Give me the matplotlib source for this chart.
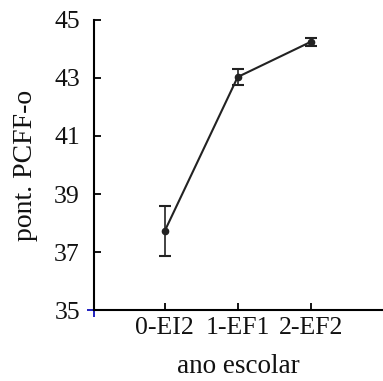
import matplotlib
matplotlib.use("Agg")
import matplotlib.pyplot as plt

# dados
anos = ["0-EI2", "1-EF1", "2-EF2"]
medias = [37.72, 43.03, 44.24]
erros = [0.86, 0.28, 0.14]
yticks = [35, 37, 39, 41, 43, 45]

plt.rcParams['font.family'] = ['Liberation Serif', 'DejaVu Serif']

fig = plt.figure(figsize=(3.83, 3.81), dpi=100)
ax = fig.add_axes([0.245, 0.186, 0.755, 0.762])

x = list(range(len(anos)))
ax.errorbar(x, medias, yerr=erros, color='#222222', lw=1.5, marker='o', ms=4.5,
            capsize=4, capthick=1.5, elinewidth=1.2)

ax.set_xlim(-0.97, 2.99)
ax.set_ylim(35, 45)
ax.set_xticks(x)
ax.set_xticklabels(anos)
ax.set_yticks(yticks)
ax.spines['top'].set_visible(False)
ax.spines['right'].set_visible(False)
ax.spines['left'].set_linewidth(1.5)
ax.spines['bottom'].set_linewidth(1.5)
ax.tick_params(direction='in', length=5, width=1.3, labelsize=18.5, labelcolor='#111111')
ax.tick_params(axis='y', pad=10)
ax.tick_params(axis='x', pad=5)
ax.set_ylabel("pont. PCFF-o", fontsize=20, color='#111111', labelpad=12)
ax.set_xlabel("ano escolar", fontsize=19.5, color='#111111', labelpad=11)

# pequena cruz azul no canto
ax.plot([-0.97, -0.97], [35, 35], marker='+', color='#2020c0', ms=10, mew=1.2, clip_on=False)

fig.savefig("out.png", dpi=100)
